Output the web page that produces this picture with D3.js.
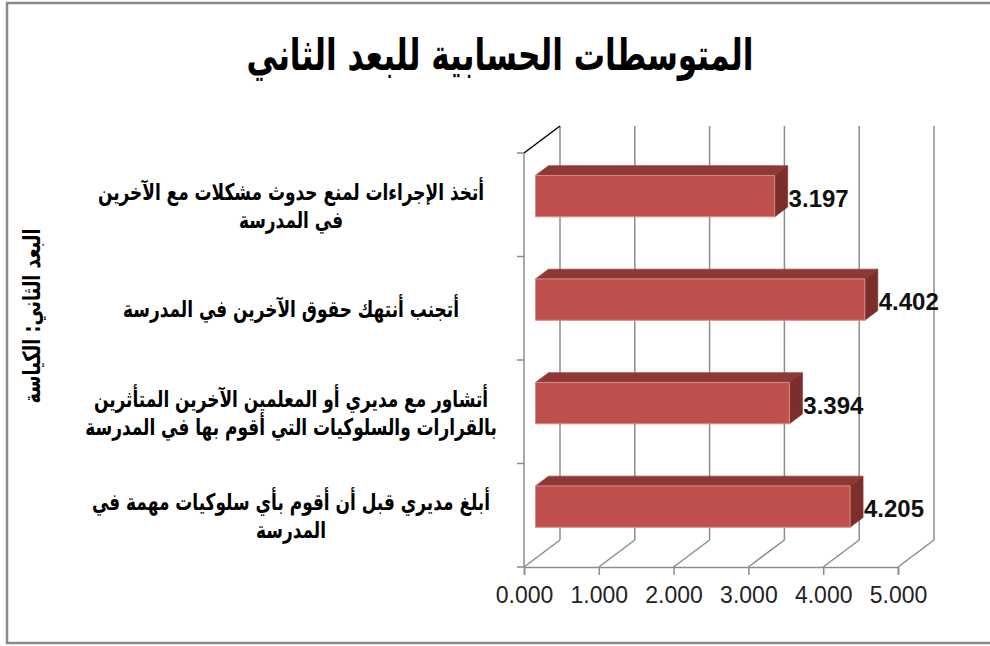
<!DOCTYPE html>
<html>
<head>
<meta charset="utf-8">
<script src="https://cdn.jsdelivr.net/npm/d3@7"></script>
<style>
  body { margin: 0; background: #fff; }
  svg { display: block; }
</style>
</head>
<body>
<script>
// chart data
const chartTitle = "المتوسطات الحسابية للبعد الثاني";
const axisTitle = "البعد الثاني: الكياسة";
const categories = [
  "أتخذ الإجراءات لمنع حدوث مشكلات مع الآخرين\nفي المدرسة",
  "أتجنب أنتهك حقوق الآخرين في المدرسة",
  "أتشاور مع مديري أو المعلمين الآخرين المتأثرين\nبالقرارات والسلوكيات التي أقوم بها في المدرسة",
  "أبلغ مديري قبل أن أقوم بأي سلوكيات مهمة في\nالمدرسة"
];
const values = [3.197, 4.402, 3.394, 4.205];
const xTicks = [0, 1, 2, 3, 4, 5];

const W = 990, H = 646;
const arabicFont = "'DejaVu Sans', sans-serif";
const latinFont = "'Liberation Sans', Arial, sans-serif";

const svg = d3.select("body").append("svg")
  .attr("width", W)
  .attr("height", H);

// outer frame
svg.append("rect")
  .attr("x", 7).attr("y", 3)
  .attr("width", 1000).attr("height", 640)
  .attr("fill", "#fff")
  .attr("stroke", "#8a8a8a")
  .attr("stroke-width", 2.5);

// scales (front plane)
const x = d3.scaleLinear().domain([0, 5]).range([524, 898]);
const y = d3.scaleBand().domain(categories).range([153, 567]);

// depth of the 3D box
const depth = {dx: 36, dy: -27};
function pt(v, yy, f) { return [x(v) + f * depth.dx, yy + f * depth.dy]; }

// puts an arabic text at (cx, cy), scaled horizontally to a given width
function fitText(parent, str, cx, cy, size, width, rotate) {
  const t = parent.append("text")
    .attr("text-anchor", "middle")
    .attr("dominant-baseline", "central")
    .attr("direction", "rtl")
    .attr("font-family", arabicFont)
    .attr("font-weight", "bold")
    .attr("font-size", size)
    .attr("fill", "#000")
    .text(str);
  const sx = width / t.node().getComputedTextLength();
  t.attr("transform", "translate(" + cx + "," + cy + ")" + (rotate ? " rotate(" + rotate + ")" : "") + " scale(" + sx + ",1)");
  return sx;
}

const grid = "#8c8c8c";
const g = svg.append("g");

// back wall gridlines + floor lines
xTicks.forEach(t => {
  const a = pt(t, y.range()[0], 1), b = pt(t, y.range()[1], 1);
  g.append("line").attr("x1", a[0]).attr("y1", a[1]).attr("x2", b[0]).attr("y2", b[1])
    .attr("stroke", grid).attr("stroke-width", 1.5);
  const c = pt(t, y.range()[1], 0);
  g.append("line").attr("x1", c[0]).attr("y1", c[1]).attr("x2", b[0]).attr("y2", b[1])
    .attr("stroke", grid).attr("stroke-width", 1.5);
});

// left wall top edge
{
  const a = pt(0, y.range()[0], 0), b = pt(0, y.range()[0], 1);
  g.append("line").attr("x1", a[0]).attr("y1", a[1]).attr("x2", b[0]).attr("y2", b[1])
    .attr("stroke", "#000").attr("stroke-width", 1.5);
}

// value axis (bottom)
const xAxis = svg.append("g")
  .attr("transform", "translate(0," + y.range()[1] + ")")
  .call(d3.axisBottom(x).tickValues(xTicks).tickFormat(d3.format(".3f")).tickSizeOuter(0).tickSize(8).tickPadding(12));
xAxis.select(".domain").attr("stroke", grid).attr("stroke-width", 1.5);
xAxis.selectAll(".tick line").attr("stroke", grid).attr("stroke-width", 1.5);
xAxis.selectAll("text")
  .attr("font-family", latinFont)
  .attr("font-size", 23)
  .attr("fill", "#222");

// category axis (left)
const bounds = categories.map(c => y(c)).concat([y.range()[1]]);
const yAxisG = svg.append("g");
yAxisG.append("line")
  .attr("x1", x(0)).attr("x2", x(0))
  .attr("y1", y.range()[0]).attr("y2", y.range()[1])
  .attr("stroke", grid).attr("stroke-width", 1.5);
yAxisG.selectAll("line.tk").data(bounds).join("line")
  .attr("class", "tk")
  .attr("x1", x(0) - 7).attr("x2", x(0))
  .attr("y1", d => d).attr("y2", d => d)
  .attr("stroke", grid).attr("stroke-width", 1.5);

// 3D bars
const f0 = 0.32, f1 = 0.68;
const barH = y.bandwidth() * 0.4;
const bars = svg.append("g");
const poly = pts => pts.map(p => p.join(",")).join(" ");
categories.forEach((c, i) => {
  const v = values[i];
  const cy = y(c) + y.bandwidth() / 2;
  const top = cy - barH / 2, bot = cy + barH / 2;
  const A = pt(0, top, f0), B = pt(v, top, f0), C = pt(v, bot, f0), D = pt(0, bot, f0);
  const A2 = pt(0, top, f1), B2 = pt(v, top, f1), C2 = pt(v, bot, f1);
  bars.append("polygon").attr("points", poly([A, B, B2, A2]))
    .attr("fill", "#8e3836").attr("stroke", "#9c4744").attr("stroke-width", 0.8);
  bars.append("polygon").attr("points", poly([B, C, C2, B2]))
    .attr("fill", "#7b2e2c").attr("stroke", "#873634").attr("stroke-width", 0.8);
  bars.append("polygon").attr("points", poly([A, B, C, D]))
    .attr("fill", "#c0504d").attr("stroke", "#d98a88").attr("stroke-width", 1);
  // data label
  svg.append("text")
    .attr("x", B2[0] + 1)
    .attr("y", (B[1] + C[1]) / 2 + 2)
    .attr("dominant-baseline", "central")
    .attr("font-family", latinFont)
    .attr("font-weight", "bold")
    .attr("font-size", 24)
    .attr("fill", "#111")
    .text(d3.format(".3f")(v));
});

// category labels (same font size for all, compressed to match the column)
const labels = svg.append("g");
const lineGap = 28;
const labelSize = 23;
let maxW = 0;
categories.forEach(c => c.split("\n").forEach(ln => {
  const t = labels.append("text").attr("font-family", arabicFont).attr("font-weight", "bold")
    .attr("font-size", labelSize).attr("direction", "rtl").text(ln);
  maxW = Math.max(maxW, t.node().getComputedTextLength());
  t.remove();
}));
const labelScale = 412 / maxW;
categories.forEach(c => {
  const lines = c.split("\n");
  const cy = y(c) + y.bandwidth() / 2 + 1;
  lines.forEach((ln, j) => {
    labels.append("text")
      .attr("text-anchor", "middle")
      .attr("dominant-baseline", "central")
      .attr("direction", "rtl")
      .attr("font-family", arabicFont)
      .attr("font-weight", "bold")
      .attr("font-size", labelSize)
      .attr("fill", "#000")
      .attr("transform", "translate(291," + (cy + (j - (lines.length - 1) / 2) * lineGap) + ") scale(" + labelScale + ",1)")
      .text(ln);
  });
});

// title
fitText(svg, chartTitle, 500, 55, 44, 507, 0);

// vertical axis title
fitText(svg, axisTitle, 31, 316, 24, 175, -90);
</script>
</body>
</html>
